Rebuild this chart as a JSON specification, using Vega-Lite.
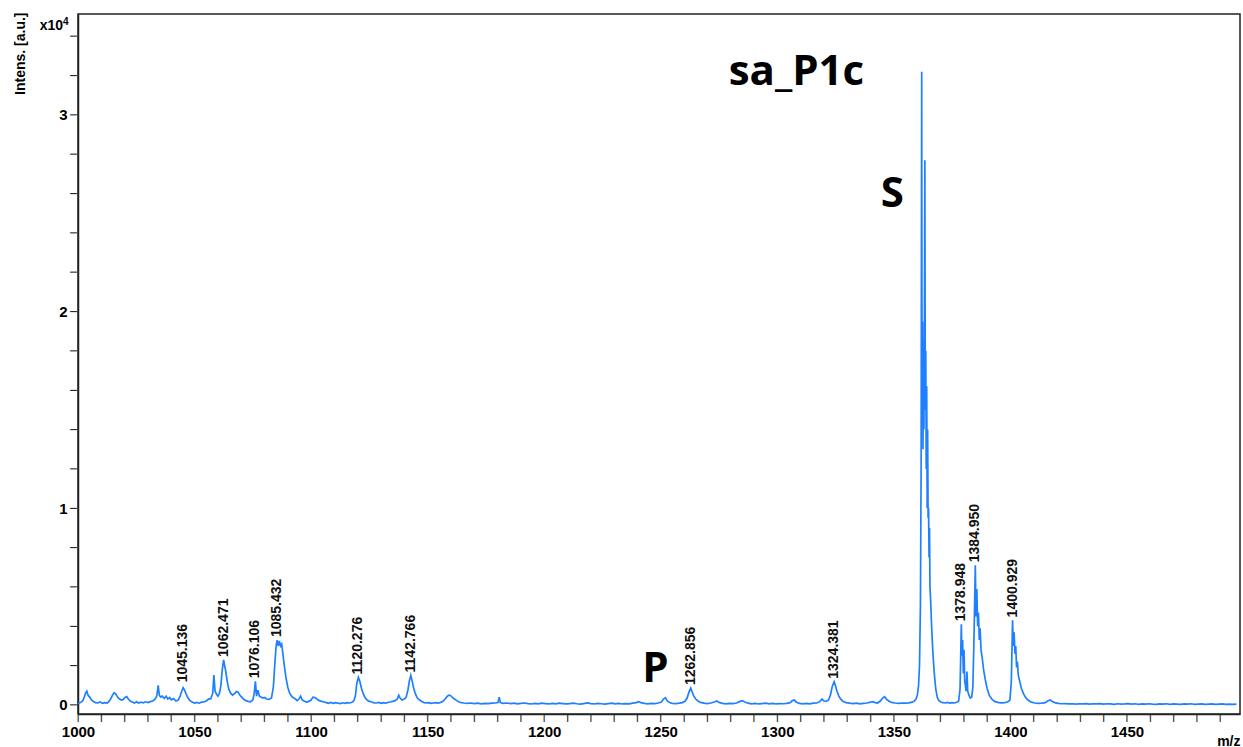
{
  "$schema": "https://vega.github.io/schema/vega-lite/v6.json",
  "width": 1162,
  "height": 700,
  "autosize": "none",
  "padding": {"left": 78, "top": 14, "right": 3, "bottom": 33},
  "background": "white",
  "config": {
    "view": {"stroke": "#222", "strokeWidth": 1.5},
    "axis": {"grid": false, "domain": true, "domainColor": "#222", "domainWidth": 1.5, "labelColor": "#000", "titleColor": "#000"}
  },
  "datasets": {
    "spectrum": [
      {"mz":1000,"intens":0.008},{"mz":1001,"intens":0.012},{"mz":1002,"intens":0.02},{"mz":1002.7,"intens":0.04},{"mz":1003.3,"intens":0.062},{"mz":1003.8,"intens":0.07},{"mz":1004.3,"intens":0.05},{"mz":1005,"intens":0.04},{"mz":1005.8,"intens":0.025},{"mz":1006.6,"intens":0.018},{"mz":1007.5,"intens":0.012},{"mz":1008.5,"intens":0.01},{"mz":1009.5,"intens":0.015},{"mz":1010.5,"intens":0.008},{"mz":1011.5,"intens":0.012},{"mz":1012.5,"intens":0.01},{"mz":1013.3,"intens":0.018},{"mz":1014,"intens":0.03},{"mz":1014.8,"intens":0.05},{"mz":1015.5,"intens":0.062},{"mz":1016.2,"intens":0.055},{"mz":1017,"intens":0.04},{"mz":1017.8,"intens":0.03},{"mz":1018.6,"intens":0.025},{"mz":1019.4,"intens":0.028},{"mz":1020.2,"intens":0.038},{"mz":1020.9,"intens":0.042},{"mz":1021.6,"intens":0.03},{"mz":1022.4,"intens":0.02},{"mz":1023.3,"intens":0.015},{"mz":1024.2,"intens":0.01},{"mz":1025.1,"intens":0.016},{"mz":1026,"intens":0.01},{"mz":1027,"intens":0.014},{"mz":1028,"intens":0.011},{"mz":1029,"intens":0.016},{"mz":1030,"intens":0.012},{"mz":1031,"intens":0.017},{"mz":1032,"intens":0.02},{"mz":1033,"intens":0.028},{"mz":1033.8,"intens":0.045},{"mz":1034.4,"intens":0.1},{"mz":1034.9,"intens":0.05},{"mz":1035.5,"intens":0.04},{"mz":1036.2,"intens":0.045},{"mz":1037,"intens":0.033},{"mz":1037.8,"intens":0.044},{"mz":1038.5,"intens":0.03},{"mz":1039.3,"intens":0.038},{"mz":1040,"intens":0.026},{"mz":1041,"intens":0.032},{"mz":1042,"intens":0.02},{"mz":1043,"intens":0.025},{"mz":1043.8,"intens":0.045},{"mz":1044.5,"intens":0.07},{"mz":1045.1,"intens":0.088},{"mz":1045.7,"intens":0.075},{"mz":1046.4,"intens":0.055},{"mz":1047.2,"intens":0.035},{"mz":1048,"intens":0.022},{"mz":1049,"intens":0.015},{"mz":1050,"intens":0.01},{"mz":1051,"intens":0.013},{"mz":1052,"intens":0.009},{"mz":1053,"intens":0.014},{"mz":1054,"intens":0.015},{"mz":1055,"intens":0.02},{"mz":1056,"intens":0.03},{"mz":1057,"intens":0.032},{"mz":1057.8,"intens":0.06},{"mz":1058.3,"intens":0.152},{"mz":1058.8,"intens":0.07},{"mz":1059.4,"intens":0.055},{"mz":1060,"intens":0.045},{"mz":1060.7,"intens":0.06},{"mz":1061.3,"intens":0.1},{"mz":1061.9,"intens":0.18},{"mz":1062.47,"intens":0.229},{"mz":1062.9,"intens":0.2},{"mz":1063.4,"intens":0.17},{"mz":1064,"intens":0.12},{"mz":1064.7,"intens":0.08},{"mz":1065.5,"intens":0.06},{"mz":1066.3,"intens":0.05},{"mz":1067.2,"intens":0.058},{"mz":1068,"intens":0.068},{"mz":1068.7,"intens":0.065},{"mz":1069.4,"intens":0.05},{"mz":1070.2,"intens":0.04},{"mz":1071,"intens":0.03},{"mz":1072,"intens":0.022},{"mz":1073,"intens":0.018},{"mz":1074,"intens":0.016},{"mz":1075,"intens":0.025},{"mz":1075.6,"intens":0.06},{"mz":1076.1,"intens":0.12},{"mz":1076.6,"intens":0.045},{"mz":1077.2,"intens":0.075},{"mz":1077.8,"intens":0.045},{"mz":1078.5,"intens":0.04},{"mz":1079.3,"intens":0.035},{"mz":1080,"intens":0.038},{"mz":1081,"intens":0.03},{"mz":1082,"intens":0.028},{"mz":1083,"intens":0.035},{"mz":1083.8,"intens":0.09},{"mz":1084.5,"intens":0.22},{"mz":1085,"intens":0.3},{"mz":1085.43,"intens":0.33},{"mz":1085.9,"intens":0.3},{"mz":1086.4,"intens":0.325},{"mz":1086.9,"intens":0.3},{"mz":1087.4,"intens":0.31},{"mz":1087.9,"intens":0.26},{"mz":1088.5,"intens":0.2},{"mz":1089.2,"intens":0.14},{"mz":1090,"intens":0.09},{"mz":1090.8,"intens":0.06},{"mz":1091.6,"intens":0.045},{"mz":1092.5,"intens":0.035},{"mz":1093.3,"intens":0.03},{"mz":1094,"intens":0.022},{"mz":1094.8,"intens":0.03},{"mz":1095.5,"intens":0.045},{"mz":1096.2,"intens":0.025},{"mz":1097,"intens":0.02},{"mz":1098,"intens":0.015},{"mz":1099,"intens":0.018},{"mz":1100,"intens":0.025},{"mz":1100.8,"intens":0.04},{"mz":1101.6,"intens":0.038},{"mz":1102.5,"intens":0.03},{"mz":1103.5,"intens":0.022},{"mz":1104.5,"intens":0.018},{"mz":1105.5,"intens":0.015},{"mz":1106.5,"intens":0.012},{"mz":1107.5,"intens":0.008},{"mz":1108.5,"intens":0.013},{"mz":1109.5,"intens":0.008},{"mz":1110.5,"intens":0.012},{"mz":1111.5,"intens":0.009},{"mz":1112.5,"intens":0.007},{"mz":1113.5,"intens":0.011},{"mz":1114.5,"intens":0.008},{"mz":1115.5,"intens":0.012},{"mz":1116.5,"intens":0.01},{"mz":1117.5,"intens":0.014},{"mz":1118.3,"intens":0.02},{"mz":1119,"intens":0.045},{"mz":1119.6,"intens":0.11},{"mz":1120.28,"intens":0.14},{"mz":1120.9,"intens":0.12},{"mz":1121.6,"intens":0.085},{"mz":1122.3,"intens":0.06},{"mz":1123,"intens":0.04},{"mz":1124,"intens":0.025},{"mz":1125,"intens":0.018},{"mz":1126,"intens":0.015},{"mz":1127,"intens":0.011},{"mz":1128,"intens":0.01},{"mz":1129,"intens":0.013},{"mz":1130,"intens":0.008},{"mz":1131,"intens":0.012},{"mz":1132,"intens":0.009},{"mz":1133,"intens":0.013},{"mz":1134,"intens":0.015},{"mz":1135,"intens":0.018},{"mz":1136,"intens":0.022},{"mz":1137,"intens":0.03},{"mz":1137.6,"intens":0.05},{"mz":1138.2,"intens":0.035},{"mz":1139,"intens":0.025},{"mz":1140,"intens":0.03},{"mz":1140.8,"intens":0.04},{"mz":1141.6,"intens":0.08},{"mz":1142.2,"intens":0.125},{"mz":1142.77,"intens":0.15},{"mz":1143.3,"intens":0.125},{"mz":1144,"intens":0.085},{"mz":1144.8,"intens":0.055},{"mz":1145.6,"intens":0.035},{"mz":1146.5,"intens":0.025},{"mz":1147.5,"intens":0.018},{"mz":1148.5,"intens":0.012},{"mz":1149.5,"intens":0.01},{"mz":1150.5,"intens":0.012},{"mz":1151.5,"intens":0.008},{"mz":1152.5,"intens":0.01},{"mz":1153.5,"intens":0.012},{"mz":1154.5,"intens":0.009},{"mz":1155.5,"intens":0.013},{"mz":1156.5,"intens":0.018},{"mz":1157.5,"intens":0.03},{"mz":1158.3,"intens":0.042},{"mz":1159,"intens":0.05},{"mz":1159.8,"intens":0.048},{"mz":1160.6,"intens":0.038},{"mz":1161.5,"intens":0.03},{"mz":1162.5,"intens":0.022},{"mz":1163.5,"intens":0.015},{"mz":1164.5,"intens":0.012},{"mz":1165.5,"intens":0.01},{"mz":1167,"intens":0.008},{"mz":1168.5,"intens":0.01},{"mz":1170,"intens":0.007},{"mz":1171.5,"intens":0.009},{"mz":1173,"intens":0.006},{"mz":1174.5,"intens":0.008},{"mz":1176,"intens":0.007},{"mz":1177.5,"intens":0.009},{"mz":1179,"intens":0.01},{"mz":1180.2,"intens":0.012},{"mz":1180.7,"intens":0.04},{"mz":1181.2,"intens":0.012},{"mz":1182.5,"intens":0.008},{"mz":1184,"intens":0.01},{"mz":1185.5,"intens":0.007},{"mz":1187,"intens":0.009},{"mz":1188.5,"intens":0.006},{"mz":1190,"intens":0.008},{"mz":1191.5,"intens":0.01},{"mz":1193,"intens":0.007},{"mz":1194.5,"intens":0.005},{"mz":1196,"intens":0.008},{"mz":1197.5,"intens":0.006},{"mz":1199,"intens":0.009},{"mz":1200.5,"intens":0.007},{"mz":1202,"intens":0.005},{"mz":1203.5,"intens":0.008},{"mz":1205,"intens":0.006},{"mz":1206.5,"intens":0.009},{"mz":1208,"intens":0.007},{"mz":1209.5,"intens":0.005},{"mz":1211,"intens":0.007},{"mz":1212.5,"intens":0.009},{"mz":1214,"intens":0.006},{"mz":1215.5,"intens":0.004},{"mz":1217,"intens":0.007},{"mz":1218.5,"intens":0.01},{"mz":1220,"intens":0.007},{"mz":1221.5,"intens":0.005},{"mz":1223,"intens":0.008},{"mz":1224.5,"intens":0.006},{"mz":1226,"intens":0.004},{"mz":1227.5,"intens":0.007},{"mz":1229,"intens":0.009},{"mz":1230.5,"intens":0.006},{"mz":1232,"intens":0.008},{"mz":1233.5,"intens":0.005},{"mz":1235,"intens":0.007},{"mz":1236.5,"intens":0.006},{"mz":1238,"intens":0.009},{"mz":1239.5,"intens":0.012},{"mz":1240.5,"intens":0.017},{"mz":1241.5,"intens":0.012},{"mz":1243,"intens":0.008},{"mz":1244.5,"intens":0.006},{"mz":1246,"intens":0.008},{"mz":1247.5,"intens":0.007},{"mz":1249,"intens":0.01},{"mz":1250.3,"intens":0.015},{"mz":1251.2,"intens":0.03},{"mz":1252,"intens":0.037},{"mz":1252.8,"intens":0.02},{"mz":1253.8,"intens":0.012},{"mz":1255,"intens":0.008},{"mz":1256.5,"intens":0.007},{"mz":1258,"intens":0.009},{"mz":1259.3,"intens":0.012},{"mz":1260.5,"intens":0.02},{"mz":1261.3,"intens":0.035},{"mz":1262.1,"intens":0.065},{"mz":1262.86,"intens":0.086},{"mz":1263.5,"intens":0.065},{"mz":1264.2,"intens":0.045},{"mz":1265,"intens":0.03},{"mz":1266,"intens":0.02},{"mz":1267,"intens":0.013},{"mz":1268.5,"intens":0.009},{"mz":1270,"intens":0.007},{"mz":1271.5,"intens":0.01},{"mz":1273,"intens":0.015},{"mz":1274,"intens":0.02},{"mz":1275,"intens":0.013},{"mz":1276.5,"intens":0.008},{"mz":1278,"intens":0.006},{"mz":1279.5,"intens":0.008},{"mz":1281,"intens":0.007},{"mz":1282.5,"intens":0.01},{"mz":1284,"intens":0.018},{"mz":1285,"intens":0.022},{"mz":1286,"intens":0.015},{"mz":1287.5,"intens":0.009},{"mz":1289,"intens":0.006},{"mz":1290.5,"intens":0.008},{"mz":1292,"intens":0.005},{"mz":1293.5,"intens":0.007},{"mz":1295,"intens":0.009},{"mz":1296.5,"intens":0.006},{"mz":1298,"intens":0.008},{"mz":1299.5,"intens":0.005},{"mz":1301,"intens":0.007},{"mz":1302.5,"intens":0.006},{"mz":1304,"intens":0.008},{"mz":1305.5,"intens":0.012},{"mz":1306.5,"intens":0.022},{"mz":1307.3,"intens":0.025},{"mz":1308.2,"intens":0.014},{"mz":1309.5,"intens":0.008},{"mz":1311,"intens":0.006},{"mz":1312.5,"intens":0.008},{"mz":1314,"intens":0.006},{"mz":1315.5,"intens":0.009},{"mz":1317,"intens":0.01},{"mz":1318.3,"intens":0.018},{"mz":1319.2,"intens":0.03},{"mz":1320,"intens":0.02},{"mz":1321,"intens":0.018},{"mz":1322,"intens":0.025},{"mz":1322.8,"intens":0.05},{"mz":1323.5,"intens":0.09},{"mz":1324.1,"intens":0.11},{"mz":1324.38,"intens":0.118},{"mz":1324.9,"intens":0.1},{"mz":1325.6,"intens":0.07},{"mz":1326.4,"intens":0.045},{"mz":1327.3,"intens":0.028},{"mz":1328.3,"intens":0.018},{"mz":1329.5,"intens":0.012},{"mz":1331,"intens":0.009},{"mz":1332.5,"intens":0.007},{"mz":1334,"intens":0.009},{"mz":1335.5,"intens":0.006},{"mz":1337,"intens":0.008},{"mz":1338.5,"intens":0.01},{"mz":1340,"intens":0.014},{"mz":1341,"intens":0.017},{"mz":1342,"intens":0.012},{"mz":1343,"intens":0.01},{"mz":1344.2,"intens":0.02},{"mz":1345.2,"intens":0.035},{"mz":1346,"intens":0.042},{"mz":1346.8,"intens":0.03},{"mz":1347.8,"intens":0.02},{"mz":1349,"intens":0.013},{"mz":1350.5,"intens":0.01},{"mz":1352,"intens":0.008},{"mz":1353.5,"intens":0.01},{"mz":1355,"intens":0.009},{"mz":1356.5,"intens":0.011},{"mz":1357.8,"intens":0.014},{"mz":1358.8,"intens":0.02},{"mz":1359.5,"intens":0.03},{"mz":1360.1,"intens":0.05},{"mz":1360.6,"intens":0.1},{"mz":1361.0,"intens":0.2},{"mz":1361.4,"intens":0.5},{"mz":1361.7,"intens":1.2},{"mz":1361.95,"intens":3.22},{"mz":1362.1,"intens":1.5},{"mz":1362.3,"intens":1.95},{"mz":1362.5,"intens":1.3},{"mz":1362.7,"intens":1.85},{"mz":1362.9,"intens":1.4},{"mz":1363.1,"intens":1.9},{"mz":1363.3,"intens":2.77},{"mz":1363.5,"intens":1.5},{"mz":1363.7,"intens":1.8},{"mz":1363.9,"intens":1.2},{"mz":1364.1,"intens":1.62},{"mz":1364.3,"intens":1.0},{"mz":1364.5,"intens":1.4},{"mz":1364.7,"intens":0.95},{"mz":1364.9,"intens":1.0},{"mz":1365.1,"intens":0.75},{"mz":1365.3,"intens":0.9},{"mz":1365.5,"intens":0.6},{"mz":1365.8,"intens":0.53},{"mz":1366.2,"intens":0.4},{"mz":1366.6,"intens":0.3},{"mz":1367.0,"intens":0.22},{"mz":1367.5,"intens":0.14},{"mz":1368.0,"intens":0.08},{"mz":1368.6,"intens":0.04},{"mz":1369.3,"intens":0.022},{"mz":1370.2,"intens":0.015},{"mz":1371,"intens":0.012},{"mz":1372,"intens":0.01},{"mz":1373,"intens":0.013},{"mz":1374,"intens":0.009},{"mz":1375,"intens":0.012},{"mz":1376,"intens":0.01},{"mz":1377,"intens":0.014},{"mz":1377.8,"intens":0.02},{"mz":1378.4,"intens":0.08},{"mz":1378.95,"intens":0.41},{"mz":1379.2,"intens":0.25},{"mz":1379.5,"intens":0.33},{"mz":1379.8,"intens":0.16},{"mz":1380.1,"intens":0.28},{"mz":1380.4,"intens":0.12},{"mz":1380.7,"intens":0.1},{"mz":1381,"intens":0.07},{"mz":1381.35,"intens":0.17},{"mz":1381.7,"intens":0.07},{"mz":1382.2,"intens":0.05},{"mz":1382.8,"intens":0.035},{"mz":1383.4,"intens":0.04},{"mz":1383.9,"intens":0.09},{"mz":1384.4,"intens":0.35},{"mz":1384.95,"intens":0.71},{"mz":1385.25,"intens":0.45},{"mz":1385.6,"intens":0.59},{"mz":1385.95,"intens":0.4},{"mz":1386.3,"intens":0.47},{"mz":1386.65,"intens":0.33},{"mz":1387,"intens":0.39},{"mz":1387.4,"intens":0.28},{"mz":1387.9,"intens":0.24},{"mz":1388.5,"intens":0.18},{"mz":1389.2,"intens":0.13},{"mz":1390,"intens":0.085},{"mz":1390.9,"intens":0.05},{"mz":1392,"intens":0.03},{"mz":1393.2,"intens":0.018},{"mz":1394.5,"intens":0.013},{"mz":1396,"intens":0.011},{"mz":1397.5,"intens":0.012},{"mz":1398.8,"intens":0.015},{"mz":1399.8,"intens":0.025},{"mz":1400.4,"intens":0.12},{"mz":1400.93,"intens":0.43},{"mz":1401.25,"intens":0.3},{"mz":1401.6,"intens":0.37},{"mz":1401.95,"intens":0.26},{"mz":1402.3,"intens":0.3},{"mz":1402.65,"intens":0.19},{"mz":1403,"intens":0.22},{"mz":1403.4,"intens":0.15},{"mz":1404,"intens":0.12},{"mz":1404.7,"intens":0.085},{"mz":1405.5,"intens":0.06},{"mz":1406.4,"intens":0.04},{"mz":1407.5,"intens":0.025},{"mz":1409,"intens":0.014},{"mz":1410.5,"intens":0.01},{"mz":1412,"intens":0.008},{"mz":1413.5,"intens":0.009},{"mz":1415,"intens":0.012},{"mz":1416,"intens":0.02},{"mz":1417,"intens":0.025},{"mz":1418,"intens":0.018},{"mz":1419,"intens":0.012},{"mz":1420.5,"intens":0.008},{"mz":1422,"intens":0.006},{"mz":1423.5,"intens":0.007},{"mz":1425,"intens":0.005},{"mz":1426.5,"intens":0.006},{"mz":1428,"intens":0.004},{"mz":1429.5,"intens":0.006},{"mz":1431,"intens":0.005},{"mz":1432.5,"intens":0.007},{"mz":1434,"intens":0.004},{"mz":1435.5,"intens":0.006},{"mz":1437,"intens":0.005},{"mz":1438.5,"intens":0.007},{"mz":1440,"intens":0.004},{"mz":1441.5,"intens":0.006},{"mz":1443,"intens":0.005},{"mz":1444.5,"intens":0.003},{"mz":1446,"intens":0.006},{"mz":1447.5,"intens":0.004},{"mz":1449,"intens":0.005},{"mz":1450.5,"intens":0.007},{"mz":1452,"intens":0.004},{"mz":1453.5,"intens":0.006},{"mz":1455,"intens":0.003},{"mz":1456.5,"intens":0.005},{"mz":1458,"intens":0.004},{"mz":1459.5,"intens":0.006},{"mz":1461,"intens":0.004},{"mz":1462.5,"intens":0.003},{"mz":1464,"intens":0.005},{"mz":1465.5,"intens":0.004},{"mz":1467,"intens":0.006},{"mz":1468.5,"intens":0.003},{"mz":1470,"intens":0.005},{"mz":1471.5,"intens":0.004},{"mz":1473,"intens":0.003},{"mz":1474.5,"intens":0.005},{"mz":1476,"intens":0.004},{"mz":1477.5,"intens":0.006},{"mz":1479,"intens":0.003},{"mz":1480.5,"intens":0.004},{"mz":1482,"intens":0.005},{"mz":1483.5,"intens":0.003},{"mz":1485,"intens":0.004},{"mz":1486.5,"intens":0.005},{"mz":1488,"intens":0.003},{"mz":1489.5,"intens":0.004},{"mz":1491,"intens":0.005},{"mz":1492.5,"intens":0.003},{"mz":1494,"intens":0.004},{"mz":1495.5,"intens":0.003},{"mz":1497,"intens":0.004}
    ],
    "xticks": [
      {"mz":1000},{"mz":1010},{"mz":1020},{"mz":1030},{"mz":1040},{"mz":1050},{"mz":1060},{"mz":1070},{"mz":1080},{"mz":1090},{"mz":1100},{"mz":1110},{"mz":1120},{"mz":1130},{"mz":1140},{"mz":1150},{"mz":1160},{"mz":1170},{"mz":1180},{"mz":1190},{"mz":1200},{"mz":1210},{"mz":1220},{"mz":1230},{"mz":1240},{"mz":1250},{"mz":1260},{"mz":1270},{"mz":1280},{"mz":1290},{"mz":1300},{"mz":1310},{"mz":1320},{"mz":1330},{"mz":1340},{"mz":1350},{"mz":1360},{"mz":1370},{"mz":1380},{"mz":1390},{"mz":1400},{"mz":1410},{"mz":1420},{"mz":1430},{"mz":1440},{"mz":1450},{"mz":1460},{"mz":1470},{"mz":1480},{"mz":1490}
    ],
    "yticks": [
      {"intens":0},{"intens":0.2},{"intens":0.4},{"intens":0.6},{"intens":0.8},{"intens":1},{"intens":1.2},{"intens":1.4},{"intens":1.6},{"intens":1.8},{"intens":2},{"intens":2.2},{"intens":2.4},{"intens":2.6},{"intens":2.8},{"intens":3},{"intens":3.2},{"intens":3.4}
    ],
    "peaks": [
      {"mz":1045.136,"intens":0.1,"label":"1045.136"},
      {"mz":1062.471,"intens":0.229,"label":"1062.471"},
      {"mz":1076.106,"intens":0.12,"label":"1076.106"},
      {"mz":1085.432,"intens":0.33,"label":"1085.432"},
      {"mz":1120.276,"intens":0.14,"label":"1120.276"},
      {"mz":1142.766,"intens":0.15,"label":"1142.766"},
      {"mz":1262.856,"intens":0.086,"label":"1262.856"},
      {"mz":1324.381,"intens":0.118,"label":"1324.381"},
      {"mz":1378.948,"intens":0.41,"label":"1378.948"},
      {"mz":1384.950,"intens":0.71,"label":"1384.950"},
      {"mz":1400.929,"intens":0.43,"label":"1400.929"}
    ],
    "notes": [
      {"mz":1308.2,"intens":3.152,"label":"sa_P1c"},
      {"mz":1349.3,"intens":2.53,"label":"S"},
      {"mz":1247.7,"intens":0.117,"label":"P"}
    ],
    "scale": [
      {"mz":1000,"intens":3.432,"label":"x10"}
    ],
    "exponent": [
      {"mz":1000,"intens":3.455,"label":"4"}
    ]
  },
  "layer": [
    {
      "data": {"name": "spectrum"},
      "mark": {"type": "line", "color": "#1f80ff", "strokeWidth": 1.7, "clip": true},
      "encoding": {
        "x": {
          "field": "mz", "type": "quantitative",
          "scale": {"domain": [1000, 1498.5], "nice": false, "zero": false},
          "axis": {
            "values": [1000,1050,1100,1150,1200,1250,1300,1350,1400,1450],
            "format": "d",
            "labelOverlap": false, "labelFlush": false,
            "ticks": false, "labelPadding": 10,
            "labelFont": "Liberation Sans", "labelFontWeight": "bold", "labelFontSize": 15,
            "title": "m/z", "titleFont": "Liberation Sans", "titleFontWeight": "bold", "titleFontSize": 14,
            "titleAlign": "right", "titleBaseline": "alphabetic", "titleX": 1162, "titleY": 31
          }
        },
        "y": {
          "field": "intens", "type": "quantitative",
          "scale": {"domain": [-0.046, 3.513], "nice": false, "zero": false},
          "axis": {
            "values": [0,1,2,3],
            "format": "d",
            "labelOverlap": false, "labelFlush": false,
            "ticks": false, "labelPadding": 11,
            "labelFont": "Liberation Sans", "labelFontWeight": "bold", "labelFontSize": 15,
            "title": "Intens. [a.u.]", "titleFont": "Liberation Sans", "titleFontWeight": "bold", "titleFontSize": 14,
            "titleAngle": 270, "titleAlign": "right", "titleBaseline": "middle", "titleX": -58, "titleY": -2
          }
        }
      }
    },
    {
      "data": {"name": "xticks"},
      "mark": {"type": "text", "text": "|", "align": "center", "baseline": "top", "font": "Liberation Sans", "fontWeight": "bold", "fontSize": 8, "color": "#222"},
      "encoding": {
        "x": {"field": "mz", "type": "quantitative"},
        "y": {"datum": -0.046}
      }
    },
    {
      "data": {"name": "yticks"},
      "mark": {"type": "text", "text": "|", "angle": 90, "align": "center", "baseline": "top", "font": "Liberation Sans", "fontWeight": "bold", "fontSize": 8, "color": "#222"},
      "encoding": {
        "y": {"field": "intens", "type": "quantitative"},
        "x": {"datum": 1000}
      }
    },
    {
      "data": {"name": "peaks"},
      "mark": {"type": "text", "angle": 270, "align": "left", "baseline": "middle", "dx": 3, "font": "Liberation Sans", "fontWeight": "bold", "fontSize": 14, "color": "#111"},
      "encoding": {
        "x": {"field": "mz", "type": "quantitative"},
        "y": {"field": "intens", "type": "quantitative"},
        "text": {"field": "label"}
      }
    },
    {
      "data": {"name": "notes"},
      "mark": {"type": "text", "align": "center", "baseline": "alphabetic", "font": "Open Sans", "fontWeight": "bold", "fontSize": 42, "color": "#000"},
      "encoding": {
        "x": {"field": "mz", "type": "quantitative"},
        "y": {"field": "intens", "type": "quantitative"},
        "text": {"field": "label"}
      }
    },
    {
      "data": {"name": "scale"},
      "mark": {"type": "text", "align": "right", "baseline": "alphabetic", "dx": -15, "font": "Liberation Sans", "fontWeight": "bold", "fontSize": 14, "color": "#000"},
      "encoding": {
        "x": {"field": "mz", "type": "quantitative"},
        "y": {"field": "intens", "type": "quantitative"},
        "text": {"field": "label"}
      }
    },
    {
      "data": {"name": "exponent"},
      "mark": {"type": "text", "align": "left", "baseline": "alphabetic", "dx": -15, "font": "Liberation Sans", "fontWeight": "bold", "fontSize": 10, "color": "#000"},
      "encoding": {
        "x": {"field": "mz", "type": "quantitative"},
        "y": {"field": "intens", "type": "quantitative"},
        "text": {"field": "label"}
      }
    }
  ]
}
